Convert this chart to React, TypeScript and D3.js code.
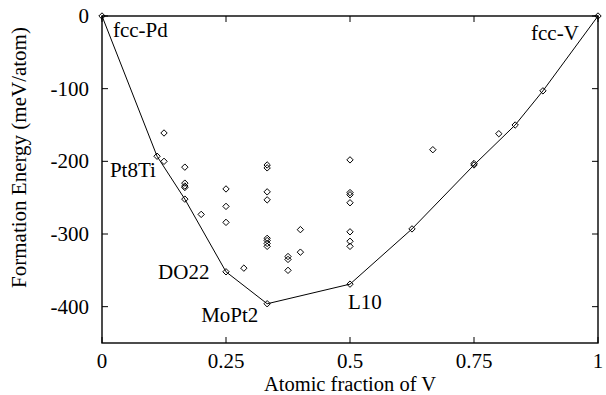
import React from "react";
import * as d3 from "d3";

const hullX = [0, 0.111, 0.167, 0.25, 0.333, 0.5, 0.625, 0.75, 0.833, 0.889, 1];
const hullE = [0, -193, -252, -352, -396, -369, -293, -205, -150, -103, 0];

const otherX = [0.125, 0.125, 0.167, 0.167, 0.167, 0.167, 0.2, 0.25, 0.25, 0.25, 0.286,
  0.333, 0.333, 0.333, 0.333, 0.333, 0.333, 0.333, 0.333, 0.375, 0.375, 0.375, 0.4, 0.4,
  0.5, 0.5, 0.5, 0.5, 0.5, 0.5, 0.5, 0.667, 0.75, 0.8];
const otherE = [-161, -200, -208, -230, -234, -236, -273, -238, -262, -284, -347,
  -205, -209, -242, -253, -306, -309, -313, -317, -331, -335, -350, -294, -325,
  -198, -243, -246, -257, -297, -310, -317, -184, -203, -162];

const xTicks = [0, 0.25, 0.5, 0.75, 1];
const xTickLabels = ["0", "0.25", "0.5", "0.75", "1"];
const yTicks = [0, -100, -200, -300, -400];
const yTickLabels = ["0", "-100", "-200", "-300", "-400"];

const structLabels = ["fcc-Pd", "Pt8Ti", "DO22", "MoPt2", "L10", "fcc-V"];
const structX = [0.022, 0.016, 0.113, 0.2, 0.496, 0.865];
const structE = [-29, -221, -362, -421, -403, -33];

const W = 606, H = 395;
const L = 102, R = 598, T = 16, B = 343;
const font = "'Liberation Serif', 'Times New Roman', serif";
const fs = 21;

export default function App() {
  const x = d3.scaleLinear().domain([0, 1]).range([L, R]);
  const y = d3.scaleLinear().domain([-450, 0]).range([B, T]);
  const line = d3.line<number>().x((_, i) => x(hullX[i])).y((_, i) => y(hullE[i]));
  const diamond = (cx: number, cy: number, r = 3.2) =>
    `M${cx},${cy - r}L${cx + r},${cy}L${cx},${cy + r}L${cx - r},${cy}Z`;
  const pts = [
    ...hullX.map((v, i) => [v, hullE[i]]),
    ...otherX.map((v, i) => [v, otherE[i]]),
  ];
  return (
    <svg width={W} height={H} style={{ position: "absolute", left: 0, top: 0, background: "#fff" }}>
      <rect x={L} y={T} width={R - L} height={B - T} fill="none" stroke="#000" strokeWidth={1.4} />
      {xTicks.map((t, i) => (
        <g key={"xt" + i}>
          <line x1={x(t)} x2={x(t)} y1={B} y2={B - 6} stroke="#000" />
          <line x1={x(t)} x2={x(t)} y1={T} y2={T + 6} stroke="#000" />
          <text x={x(t)} y={367.5} textAnchor="middle" fontFamily={font} fontSize={fs}>{xTickLabels[i]}</text>
        </g>
      ))}
      {yTicks.map((t, i) => (
        <g key={"yt" + i}>
          <line x1={L} x2={L + 6} y1={y(t)} y2={y(t)} stroke="#000" />
          <line x1={R} x2={R - 6} y1={y(t)} y2={y(t)} stroke="#000" />
          <text x={89} y={y(t) + 7} textAnchor="end" fontFamily={font} fontSize={fs}>{yTickLabels[i]}</text>
        </g>
      ))}
      <text x={(L + R) / 2} y={390.5} textAnchor="middle" fontFamily={font} fontSize={20.5}>Atomic fraction of V</text>
      <text transform={`translate(26,157.5) rotate(-90)`} textAnchor="middle" fontFamily={font} fontSize={fs}>Formation Energy (meV/atom)</text>
      <path d={line(hullX) || ""} fill="none" stroke="#000" strokeWidth={1} />
      {pts.map((p, i) => (
        <path key={"p" + i} d={diamond(x(p[0]), y(p[1]))} fill="none" stroke="#000" strokeWidth={1} />
      ))}
      {structLabels.map((s, i) => (
        <text key={"s" + i} x={x(structX[i])} y={y(structE[i])} fontFamily={font} fontSize={fs}>{s}</text>
      ))}
    </svg>
  );
}
